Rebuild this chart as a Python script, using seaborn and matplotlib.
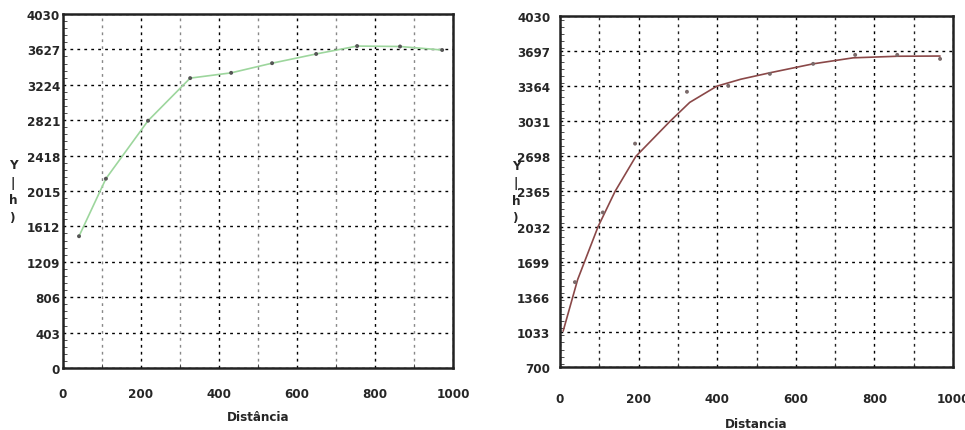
import numpy as np
import pandas as pd
import seaborn as sns
import matplotlib.pyplot as plt
from matplotlib.ticker import MultipleLocator

# semivariograma experimental (esquerda)
dist_a = [41, 110, 218, 326, 431, 536, 649, 754, 864, 972]
gamma_a = [1500, 2155, 2815, 3300, 3360, 3470, 3575, 3665, 3660, 3620]

# pontos e modelo ajustado (direita)
dist_b = [38, 109, 191, 323, 428, 534, 644, 751, 858, 967]
gamma_b = [1505, 2166, 2819, 3311, 3368, 3481, 3576, 3661, 3661, 3623]
model_x = [8, 45, 97, 140, 193, 280, 330, 399, 460, 534, 644, 746, 858, 967]
model_y = [1040, 1530, 2032, 2365, 2698, 3031, 3210, 3364, 3430, 3491, 3576, 3633, 3648, 3650]

yticks_a = [0, 403, 806, 1209, 1612, 2015, 2418, 2821, 3224, 3627, 4030]
yticks_b = [700, 1033, 1366, 1699, 2032, 2365, 2698, 3031, 3364, 3697, 4030]
xticks = [0, 200, 400, 600, 800, 1000]

sns.set_style("white")
plt.rcParams['font.family'] = ['DejaVu Sans']
plt.rcParams['font.stretch'] = 'condensed'
plt.rcParams['font.weight'] = 'bold'

fig = plt.figure(figsize=(9.65, 4.31), dpi=100)
ax1 = fig.add_axes([0.0653, 0.1439, 0.4042, 0.8213])
ax2 = fig.add_axes([0.5803, 0.1462, 0.4073, 0.8144])

df_a = pd.DataFrame({'d': dist_a, 'g': gamma_a})
df_b = pd.DataFrame({'d': dist_b, 'g': gamma_b})
df_m = pd.DataFrame({'d': model_x, 'g': model_y})

sns.lineplot(data=df_a, x='d', y='g', ax=ax1, color='#9dd69d', lw=1.2, zorder=3)
sns.scatterplot(data=df_a, x='d', y='g', ax=ax1, color='#555555', s=8, edgecolor='none', zorder=4)

sns.lineplot(data=df_m, x='d', y='g', ax=ax2, color='#8a4848', lw=1.2, zorder=3)
sns.scatterplot(data=df_b, x='d', y='g', ax=ax2, color='#7a6a6a', s=8, edgecolor='none', zorder=4)

setup = [(ax1, yticks_a, 'Distância', '#888888', 2, 14, 7),
         (ax2, yticks_b, 'Distancia', '#222222', 7, 18, 9)]
for ax, yt, xl, minor_col, ypad, xpad, lpad in setup:
    ax.set_xlim(0, 1000)
    ax.set_ylim(yt[0], yt[-1])
    ax.set_xticks(xticks)
    ax.set_yticks(yt)
    ax.xaxis.set_minor_locator(MultipleLocator(100))
    ax.yaxis.set_minor_locator(MultipleLocator((yt[1] - yt[0]) / 5))
    ax.grid(True, which='major', color='black', ls=(0, (2, 3)), lw=1.0)
    ax.grid(True, which='minor', axis='x', color=minor_col, ls=(0, (2, 3)), lw=1.0)
    ax.tick_params(which='major', length=0, labelsize=9.5)
    ax.tick_params(axis='x', which='major', pad=xpad)
    ax.tick_params(axis='y', which='major', pad=ypad)
    ax.tick_params(which='minor', direction='in', length=3, color='#333333',
                   left=True, bottom=True)
    for lbl in ax.get_xticklabels() + ax.get_yticklabels():
        lbl.set_fontweight('bold')
    for s in ax.spines.values():
        s.set_color('#222222')
        s.set_linewidth(1.8)
    ax.set_xlabel(xl, fontsize=9.5, fontweight='bold', labelpad=lpad)
    ax.set_ylabel('')

ax1.text(-0.128, 0.5, 'Y\n|\nh\n)', transform=ax1.transAxes, fontsize=9.5,
         fontweight='bold', ha='center', va='center', linespacing=1.45)
ax2.text(-0.112, 0.5, 'Y\n|\nh\n)', transform=ax2.transAxes, fontsize=9.5,
         fontweight='bold', ha='center', va='center', linespacing=1.45)

fig.savefig('out.png', dpi=100)
